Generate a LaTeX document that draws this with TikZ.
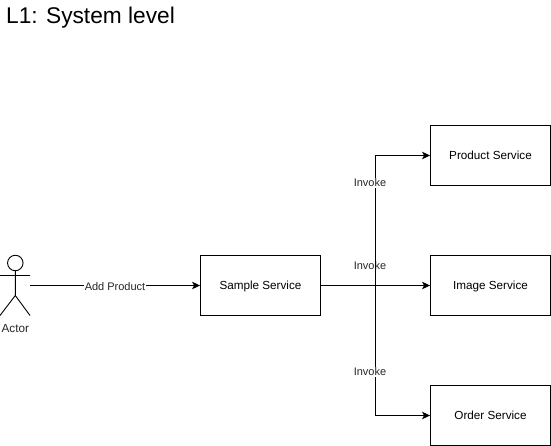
\documentclass[tikz,border=0pt]{standalone}
\usepackage{fontspec}
\setmainfont{Liberation Sans}
\usetikzlibrary{arrows.meta}
\newcommand{\boxtxt}[1]{\raisebox{-4.2pt}[0pt][0pt]{#1}}
\begin{document}
\begin{tikzpicture}[x=1pt,y=-1pt,
 box/.style={draw=black,fill=white,line width=0.9pt,minimum width=120pt,minimum height=60pt,inner sep=0pt,font=\fontsize{11.7pt}{14pt}\selectfont,anchor=center},
 conn/.style={draw=black,line width=0.9pt,-{Stealth[length=8pt,width=7.5pt,inset=2pt]}},
 lab/.style={fill=white,inner xsep=0.5pt,inner ysep=1pt,font=\fontsize{11pt}{13pt}\selectfont,text=black!85},
 stick/.style={draw=black,line width=0.9pt}]
\useasboundingbox (0,0) rectangle (551,446);
\node[anchor=base west,inner sep=0pt,font=\fontsize{22.7pt}{26pt}\selectfont] (title) at (6,23.8) {L1: System level};
\node[box] (image) at (490.5,285.5) {\boxtxt{Image Service}};
\node[box] (sample) at (260.5,285.5) {\boxtxt{Sample Service}};
\node[box] (product) at (490.5,155.5) {\boxtxt{Product Service}};
\node[box] (order) at (490.5,415.5) {\boxtxt{Order Service}};
\coordinate (actor) at (30,285.5);
\draw[stick] (15.3,263) circle (7.75);
\draw[stick] (15.3,270.75) -- (15.3,295.5) (0,275.5) -- (30,275.5) (15.3,295.5) -- (0,315.5) (15.3,295.5) -- (30,315.5);
\node[inner sep=0pt,font=\fontsize{11.7pt}{14pt}\selectfont,text=black!85] (actorlab) at (15.3,329) {Actor};
\draw[conn] (actor) -- node[lab,yshift=-0.6pt] {Add Product} (sample);
\draw[conn] (sample) -- (image);
\node[lab,fill=none] (inv2) at (370,265.7) {Invoke};
\draw[conn] (sample.east) -| (375,155.5) -- (product.west);
\draw[conn] (sample.east) -| (375,415.5) -- (order.west);
\node[lab] (inv1) at (370,182.7) {Invoke};
\node[lab] (inv3) at (370,371.7) {Invoke};
\end{tikzpicture}
\end{document}
